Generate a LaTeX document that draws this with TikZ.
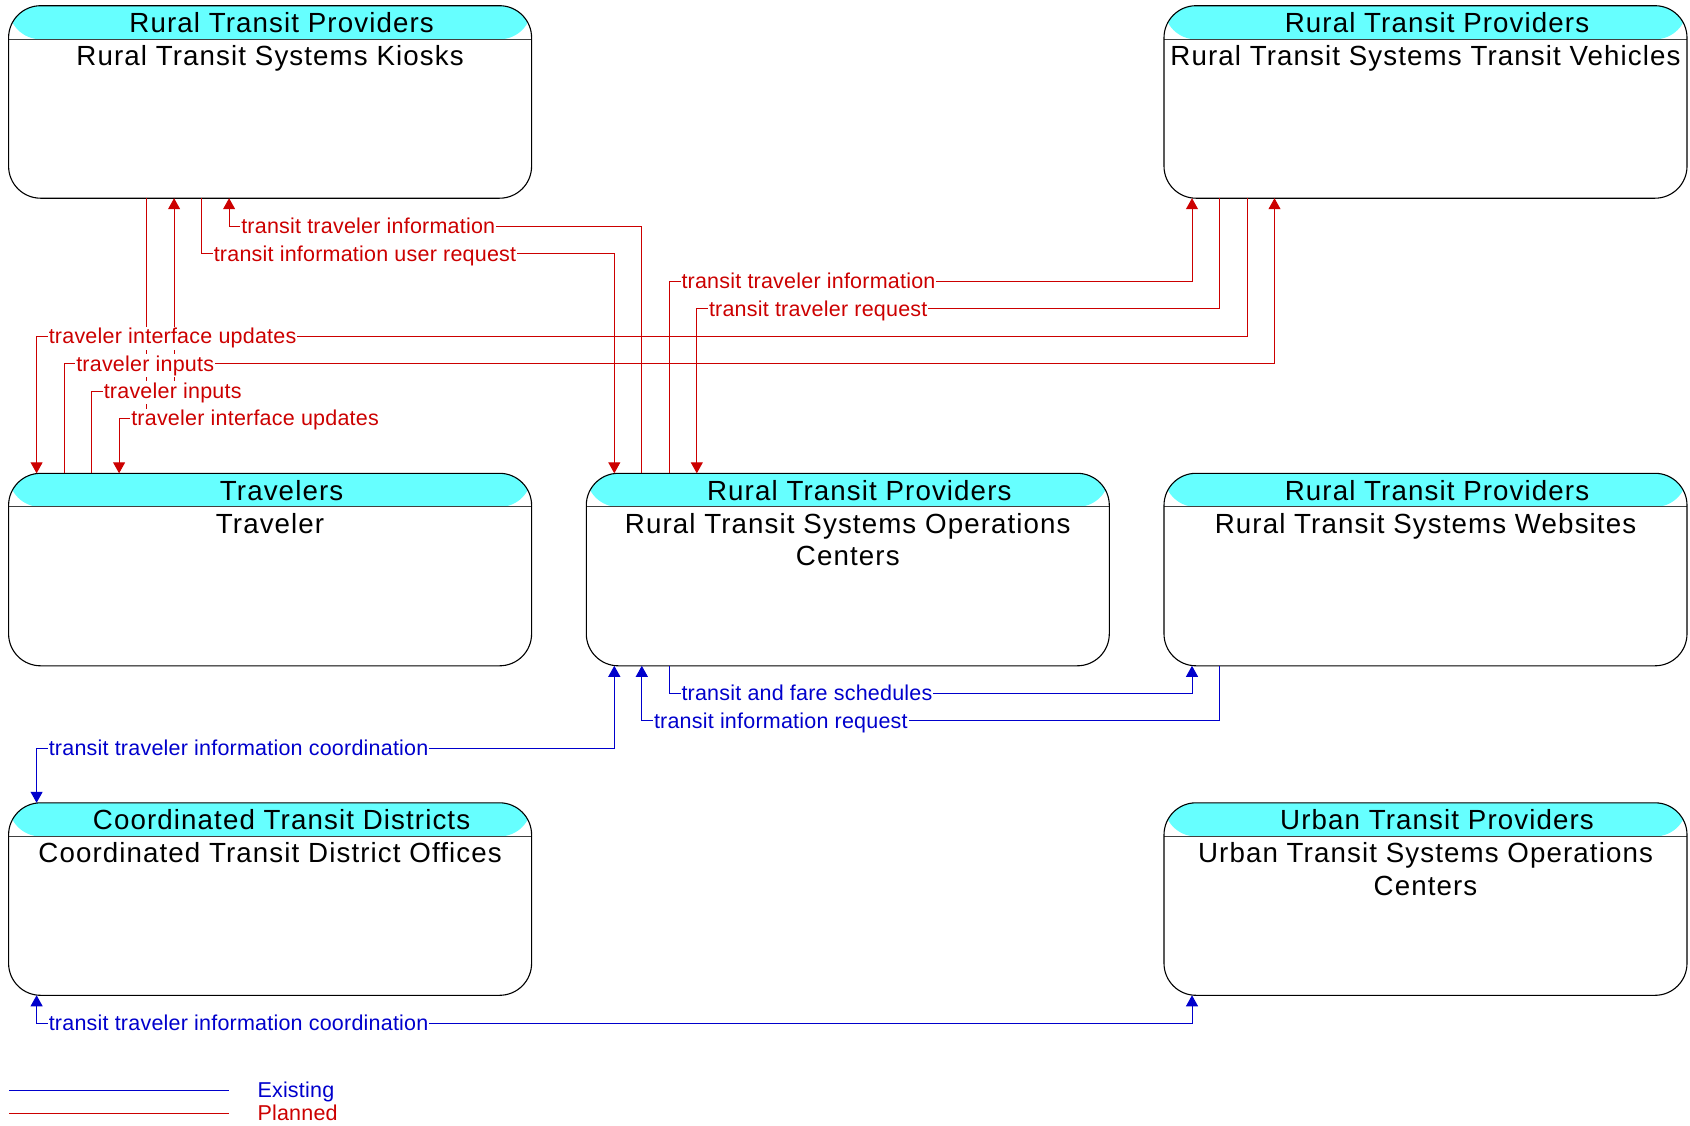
\documentclass[tikz,border=0pt]{standalone}
\usepackage{fontspec}
\setmainfont{Liberation Sans}
\newfontfamily\boxfont[LetterSpace=4.0]{Liberation Sans}
\newfontfamily\flowfont[LetterSpace=1.0]{Liberation Sans}
\usetikzlibrary{arrows.meta}

\definecolor{hdrcyan}{RGB}{102,255,255}
\definecolor{planred}{RGB}{204,0,0}
\definecolor{existblue}{RGB}{0,0,204}

\tikzset{
  sysbox/.style={draw=black, line width=1.1pt, rounded corners=32pt,
    minimum width=523pt, minimum height=192.5pt, anchor=north west,
    inner sep=0pt, outer sep=0pt,
    path picture={
      \fill[hdrcyan] (path picture bounding box.north west) rectangle
        ([yshift=-33.6pt]path picture bounding box.north east);
      \draw[line width=1.1pt, black!75]
        ([yshift=-33.6pt]path picture bounding box.north west) --
        ([yshift=-33.6pt]path picture bounding box.north east);
    }},
  hdrtext/.style={anchor=base, inner sep=0pt,
    font=\boxfont\fontsize{27.7}{32.3}\selectfont},
  bodytext/.style={anchor=base, inner sep=0pt,
    font=\boxfont\fontsize{27.7}{32.3}\selectfont},
  flow/.style={line width=1pt},
  planned/.style={flow, draw=planred},
  existing/.style={flow, draw=existblue},
  onetip/.style={-{Triangle[length=11pt,width=12pt]}},
  bothtips/.style={{Triangle[length=11pt,width=12pt]}-{Triangle[length=11pt,width=12pt]}},
  flowlbl/.style={anchor=base west, xshift=11pt, yshift=-7.5pt, fill=white,
    inner xsep=1pt, inner ysep=1.5pt,
    font=\flowfont\fontsize{21.5}{24}\selectfont},
  plbl/.style={flowlbl, text=planred},
  elbl/.style={flowlbl, text=existblue},
  legendtext/.style={anchor=base west, inner sep=0pt,
    font=\flowfont\fontsize{21.5}{24}\selectfont},
}

% a subsystem box: name, x, y (top left), owner, subsystem name
\newcommand\sysnode[5]{%
  \node[sysbox] (#1) at (#2,#3) {};
  \node[hdrtext] (#1-hdr) at ([xshift=11.5pt,yshift=-27pt]#1.north) {#4};
  \node[bodytext] (#1-txt) at ([yshift=-60pt]#1.north)
    {\begin{tabular}[t]{@{}c@{}}#5\end{tabular}};
}

\begin{document}
\begin{tikzpicture}[x=1pt,y=-1pt]
\useasboundingbox (0,0) rectangle (1690,1125);

% subsystems
\sysnode{kiosk}{8.6}{5.7}{Rural Transit Providers}{Rural Transit Systems Kiosks}
\sysnode{veh}{1164}{5.7}{Rural Transit Providers}{Rural Transit Systems Transit Vehicles}
\sysnode{trav}{8.6}{473.3}{Travelers}{Traveler}
\sysnode{ops}{586.3}{473.3}{Rural Transit Providers}{Rural Transit Systems Operations\\Centers}
\sysnode{web}{1164}{473.3}{Rural Transit Providers}{Rural Transit Systems Websites}
\sysnode{ctd}{8.6}{802.8}{Coordinated Transit Districts}{Coordinated Transit District Offices}
\sysnode{urb}{1164}{802.8}{Urban Transit Providers}{Urban Transit Systems Operations\\Centers}

% connection ports along the top and bottom edges
\foreach \n in {kiosk,veh,trav,ops,web,ctd,urb}{
  \foreach \k in {0,...,7}{
    \coordinate (\n-t\k) at ([xshift={(28+27.5*\k)*1pt}]\n.north west);
    \coordinate (\n-b\k) at ([xshift={(28+27.5*\k)*1pt}]\n.south west);
  }
}

% routing levels
\foreach \i in {0,...,7}{
  \coordinate (L\i) at (0,{226.3+27.45*\i});
}
\coordinate (M0) at (0,693);
\coordinate (M1) at (0,720.5);
\coordinate (M2) at (0,748);
\coordinate (M3) at (0,1023);

% planned flows
\draw[planned,onetip] (ops-t1) |- (kiosk-b7 |- L0) -- (kiosk-b7);
\draw[planned,onetip] (kiosk-b6) |- (ops-t0 |- L1) -- (ops-t0);
\draw[planned,onetip] (ops-t2) |- (veh-b0 |- L2) -- (veh-b0);
\draw[planned,onetip] (veh-b1) |- (ops-t3 |- L3) -- (ops-t3);
\draw[planned,onetip] (veh-b2) |- (trav-t0 |- L4) -- (trav-t0);
\draw[planned,onetip] (trav-t1) |- (veh-b3 |- L5) -- (veh-b3);
\draw[planned,onetip] (trav-t2) |- (kiosk-b5 |- L6) -- (kiosk-b5);
\draw[planned,onetip] (kiosk-b4) |- (trav-t3 |- L7) -- (trav-t3);

% existing flows
\draw[existing,onetip] (ops-b2) |- (web-b0 |- M0) -- (web-b0);
\draw[existing,onetip] (web-b1) |- (ops-b1 |- M1) -- (ops-b1);
\draw[existing,bothtips] (ops-b0) |- (ctd-t0 |- M2) -- (ctd-t0);
\draw[existing,bothtips] (ctd-b0) |- (urb-b0 |- M3) -- (urb-b0);

% flow labels
\node[plbl] (f1) at (kiosk-b7 |- L0) {transit traveler information};
\node[plbl] (f2) at (kiosk-b6 |- L1) {transit information user request};
\node[plbl] (f3) at (ops-t2 |- L2) {transit traveler information};
\node[plbl] (f4) at (ops-t3 |- L3) {transit traveler request};
\node[plbl] (f5) at (trav-t0 |- L4) {traveler interface updates};
\node[plbl] (f6) at (trav-t1 |- L5) {traveler inputs};
\node[plbl] (f7) at (trav-t2 |- L6) {traveler inputs};
\node[plbl] (f8) at (trav-t3 |- L7) {traveler interface updates};
\node[elbl] (f9) at (ops-b2 |- M0) {transit and fare schedules};
\node[elbl] (f10) at (ops-b1 |- M1) {transit information request};
\node[elbl] (f11) at (ctd-t0 |- M2) {transit traveler information coordination};
\node[elbl] (f12) at (ctd-b0 |- M3) {transit traveler information coordination};

% legend
\coordinate (exA) at (9.3,1090);
\coordinate (exB) at (229.3,1090);
\coordinate (plA) at (9.3,1113.3);
\coordinate (plB) at (229.3,1113.3);
\draw[existing] (exA) -- (exB);
\draw[planned] (plA) -- (plB);
\node[legendtext, text=existblue] (exT) at (257.3,1097.3) {Existing};
\node[legendtext, text=planred] (plT) at (257.3,1120.7) {Planned};
\end{tikzpicture}
\end{document}
